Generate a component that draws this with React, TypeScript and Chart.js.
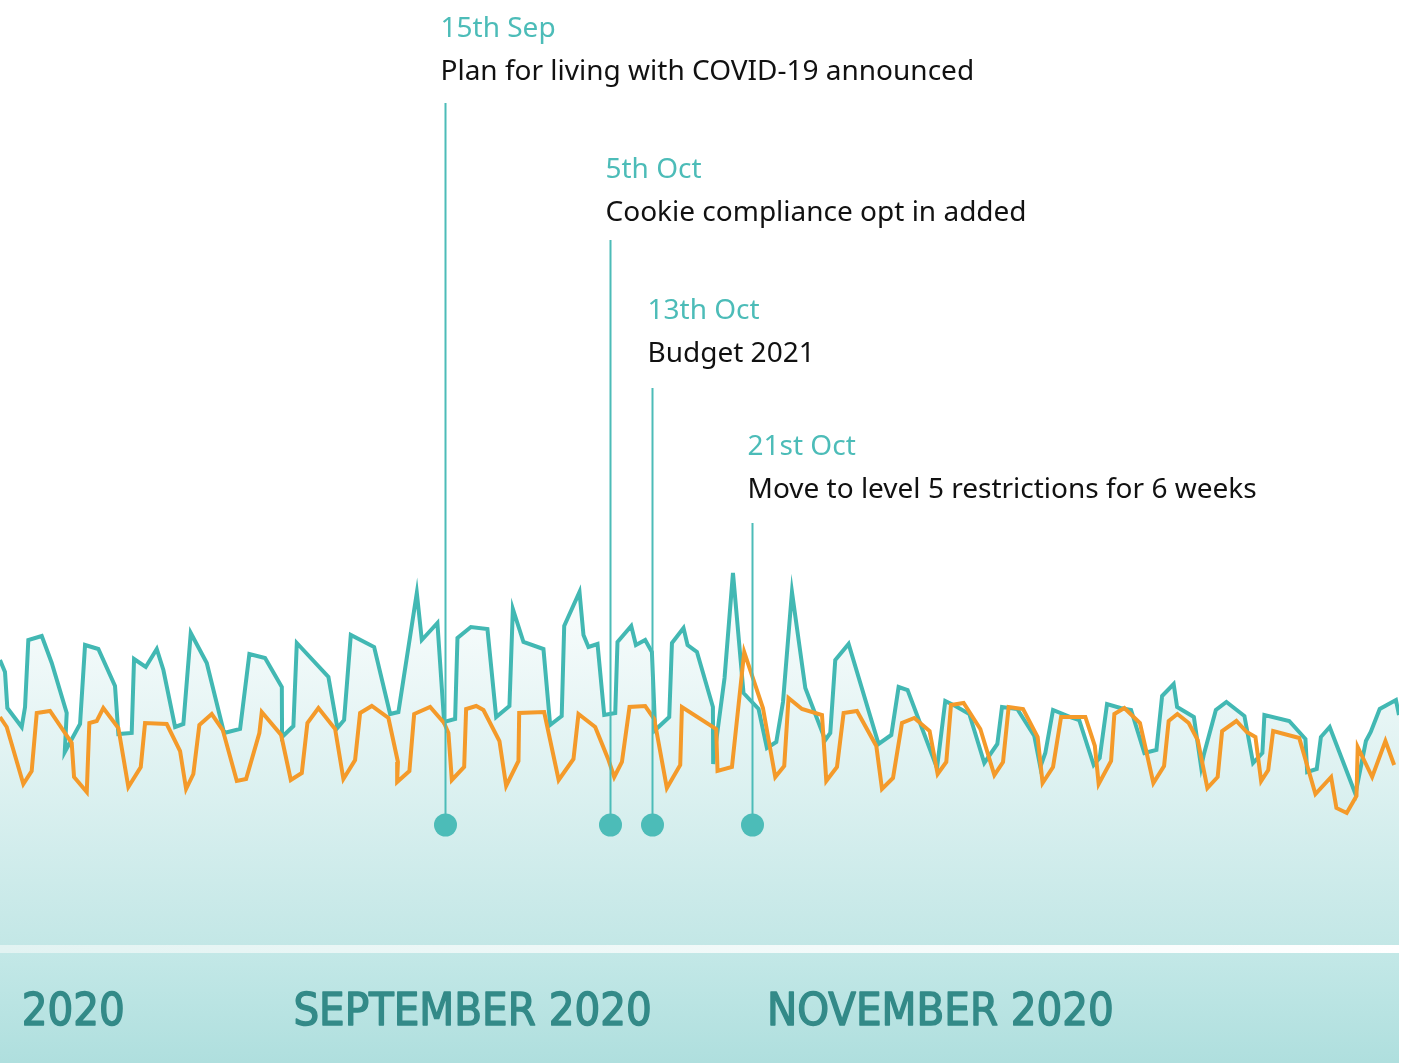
import React, { useEffect, useRef } from "react";
import { Chart, registerables } from "chart.js";

Chart.register(...registerables);

// Days since the start of the period (x) and daily visits index (y)
const tealDays = [0, 0.64, 0.94, 2.78, 3.21, 3.63, 5.35, 6.63, 8.55, 8.3, 10.26, 10.9, 12.6, 14.74, 15.17, 16.88, 17.18, 18.68, 20.09, 20.94, 22.44, 23.5, 24.45, 26.5, 28.72, 30.77, 31.96, 33.97, 36.12, 36.15, 37.6, 38.04, 42.09, 43.24, 44.1, 44.96, 47.95, 50.0, 51.06, 53.42, 54.06, 56.06, 56.92, 58.33, 58.63, 60.35, 62.47, 63.59, 65.29, 65.73, 67.09, 69.65, 70.51, 71.99, 72.31, 74.27, 74.78, 75.42, 76.58, 77.44, 78.85, 79.14, 80.9, 81.5, 82.69, 83.55, 83.97, 85.77, 86.12, 87.6, 88.12, 89.32, 91.37, 91.4, 92.86, 93.94, 95.29, 97.22, 98.29, 99.49, 100.35, 101.5, 103.21, 105.77, 106.41, 107.05, 108.76, 112.6, 114.23, 115.17, 116.32, 120.09, 121.15, 122.44, 124.23, 126.15, 127.82, 128.42, 130.38, 132.56, 133.33, 133.97, 134.96, 137.18, 138.31, 140.17, 140.94, 141.88, 143.59, 144.96, 146.67, 148.21, 148.94, 150.42, 150.86, 153.01, 153.94, 154.27, 155.83, 157.18, 159.49, 160.6, 161.79, 162.05, 165.23, 167.31, 167.53, 168.76, 169.29, 170.42, 173.72, 175.06, 175.68, 176.83, 178.91, 179.3];
const tealVisits = [285, 273, 237, 218, 238, 305, 309, 282, 232, 193, 221, 300, 296, 259, 211, 212, 286, 278, 296, 275, 218, 221, 312, 282, 212, 216, 291, 287, 258, 208, 219, 302, 268, 217, 225, 310, 298, 231, 233, 352, 305, 322, 223, 226, 307, 318, 316, 228, 239, 336, 303, 296, 220, 229, 319, 353, 310, 298, 301, 230, 232, 303, 319, 300, 305, 293, 215, 228, 302, 317, 300, 293, 238, 181, 267, 372, 252, 236, 197, 203, 243, 353, 257, 205, 212, 285, 301, 201, 210, 258, 255, 177, 244, 239, 231, 182, 201, 238, 236, 209, 178, 192, 235, 228, 225, 180, 187, 241, 237, 235, 192, 195, 249, 261, 238, 228, 178, 190, 235, 243, 229, 182, 192, 230, 224, 206, 173, 176, 208, 218, 151, 204, 213, 236, 245, 230];

const orangeDays = [0, 0.86, 2.99, 4.06, 4.71, 6.41, 9.19, 9.49, 11.12, 11.45, 12.4, 13.24, 15.17, 16.45, 18.04, 18.59, 21.37, 23.08, 23.85, 24.78, 25.55, 27.14, 28.55, 30.35, 31.54, 33.24, 33.55, 36.03, 37.27, 38.68, 39.4, 40.81, 42.95, 44.01, 45.51, 46.15, 47.65, 49.78, 51.0, 50.9, 52.47, 53.08, 55.13, 56.92, 57.47, 57.91, 59.49, 59.74, 61.03, 61.96, 64.01, 64.87, 66.45, 66.54, 69.74, 71.6, 73.5, 74.14, 76.28, 77.99, 78.72, 79.71, 80.68, 82.69, 83.85, 85.47, 87.18, 87.4, 91.79, 91.96, 93.81, 95.38, 97.78, 99.36, 100.51, 101.06, 102.78, 105.35, 105.9, 107.27, 108.12, 109.83, 112.31, 113.04, 114.45, 115.6, 117.18, 119.14, 120.17, 121.28, 121.88, 123.5, 125.64, 127.44, 128.55, 129.27, 131.12, 132.99, 133.62, 134.96, 135.99, 139.1, 140.32, 140.81, 142.4, 142.82, 144.1, 146.1, 147.82, 149.19, 149.78, 150.9, 152.35, 153.5, 154.74, 156.06, 156.63, 158.46, 159.78, 160.9, 161.63, 162.54, 163.17, 166.51, 168.59, 170.6, 171.28, 172.6, 173.85, 174.01, 175.86, 177.56, 178.68];
const orangeVisits = [228, 218, 161, 174, 232, 234, 202, 168, 153, 222, 224, 237, 217, 158, 178, 222, 221, 194, 156, 171, 220, 231, 215, 164, 166, 212, 233, 210, 165, 172, 222, 237, 216, 166, 185, 232, 239, 227, 183, 163, 174, 231, 238, 222, 212, 165, 178, 236, 239, 235, 204, 159, 184, 232, 233, 165, 186, 231, 218, 185, 168, 183, 238, 239, 226, 157, 180, 238, 216, 174, 178, 293, 237, 168, 179, 247, 236, 230, 164, 178, 232, 234, 199, 156, 167, 222, 227, 214, 171, 183, 240, 242, 216, 170, 183, 238, 236, 208, 162, 178, 228, 228, 199, 161, 184, 231, 237, 222, 162, 179, 224, 231, 222, 205, 157, 168, 214, 224, 213, 208, 164, 175, 214, 207, 151, 168, 137, 132, 149, 198, 168, 204, 180];

// Events
const eventDays = [57.05, 78.2, 83.6, 96.4];
const eventDates = ["15th Sep", "5th Oct", "13th Oct", "21st Oct"];
const eventLabels = [
  "Plan for living with COVID-19 announced",
  "Cookie compliance opt in added",
  "Budget 2021",
  "Move to level 5 restrictions for 6 weeks",
];
const eventLevels = [842, 705, 557, 422];
const eventLabelLevels = [865, 724, 583, 447];
const eventMarkerLevel = 120;

// Axis labels
const axisLabelDays = [2.8, 37.6, 98.3];
const axisLabels = ["2020", "SEPTEMBER 2020", "NOVEMBER 2020"];

const X_MAX = 179.3;
const Y_MAX = 945;

const TEAL = "#42b8b3";
const ORANGE = "#f49a2a";
const ACCENT = "#4cbcb8";

const overlayPlugin = {
  id: "overlay",
  beforeDraw(chart: any) {
    const { ctx, chartArea, scales } = chart;
    const left = chartArea.left;
    const right = chartArea.right;
    const bottom = chartArea.bottom;
    ctx.save();
    const sg = ctx.createLinearGradient(left, 0, right, 0);
    sg.addColorStop(0, "#e2f3f2");
    sg.addColorStop(1, "#ffffff");
    ctx.fillStyle = sg;
    ctx.fillRect(left, bottom, right - left, 8);
    const bg = ctx.createLinearGradient(0, bottom + 8, 0, chart.height);
    bg.addColorStop(0, "#c3e8e7");
    bg.addColorStop(1, "#afdfde");
    ctx.fillStyle = bg;
    ctx.fillRect(left, bottom + 8, right - left, chart.height - bottom - 8);
    ctx.font = 'normal 45px "DejaVu Sans Condensed"';
    ctx.fillStyle = "#338a88";
    ctx.strokeStyle = "#338a88";
    ctx.lineWidth = 1.4;
    ctx.lineJoin = "round";
    ctx.textAlign = "left";
    ctx.textBaseline = "alphabetic";
    axisLabels.forEach((t, i) => {
      const x = scales.x.getPixelForValue(axisLabelDays[i]);
      ctx.fillText(t, x, bottom + 80);
      ctx.strokeText(t, x, bottom + 80);
    });
    ctx.restore();
  },
  afterDatasetsDraw(chart: any) {
    const { ctx, scales } = chart;
    ctx.save();
    eventDays.forEach((d, i) => {
      const x = Math.round(scales.x.getPixelForValue(d)) + 0.5;
      const yTop = scales.y.getPixelForValue(eventLevels[i]);
      const yDot = scales.y.getPixelForValue(eventMarkerLevel);
      const yText = scales.y.getPixelForValue(eventLabelLevels[i]);
      ctx.strokeStyle = ACCENT;
      ctx.lineWidth = 2;
      ctx.beginPath();
      ctx.moveTo(x, yTop);
      ctx.lineTo(x, yDot);
      ctx.stroke();
      ctx.fillStyle = ACCENT;
      ctx.beginPath();
      ctx.arc(x, yDot, 11.5, 0, Math.PI * 2);
      ctx.fill();
      ctx.textAlign = "left";
      ctx.textBaseline = "alphabetic";
      ctx.font = '28px "Noto Sans"';
      ctx.fillStyle = ACCENT;
      ctx.fillText(eventDates[i], x - 5, yText - 43);
      ctx.fillStyle = "#111111";
      ctx.fillText(eventLabels[i], x - 5, yText);
    });
    ctx.restore();
  },
};

export default function App() {
  const canvasRef = useRef<HTMLCanvasElement | null>(null);

  useEffect(() => {
    const canvas = canvasRef.current;
    if (!canvas) return;
    const chart = new Chart(canvas, {
      type: "line",
      data: {
        datasets: [
          {
            label: "Orange",
            data: orangeDays.map((d, i) => ({ x: d, y: orangeVisits[i] })),
            borderColor: ORANGE,
            borderWidth: 4,
            pointRadius: 0,
            tension: 0,
            fill: false,
            borderJoinStyle: "miter",
            order: 0,
          },
          {
            label: "Teal",
            data: tealDays.map((d, i) => ({ x: d, y: tealVisits[i] })),
            borderColor: TEAL,
            borderWidth: 4,
            pointRadius: 0,
            tension: 0,
            fill: "origin",
            borderJoinStyle: "miter",
            order: 1,
            backgroundColor: (context: any) => {
              const ca = context.chart.chartArea;
              if (!ca) return "#d8efee";
              const g = context.chart.ctx.createLinearGradient(0, ca.bottom - 385, 0, ca.bottom);
              g.addColorStop(0, "#ffffff");
              g.addColorStop(1, "#c3e7e6");
              return g;
            },
          },
        ],
      },
      options: {
        responsive: false,
        animation: false,
        devicePixelRatio: 1,
        layout: { padding: { left: 0, right: 9, top: 0, bottom: 118 } },
        plugins: { legend: { display: false }, tooltip: { enabled: false } },
        scales: {
          x: { type: "linear", min: 0, max: X_MAX, display: false },
          y: { type: "linear", min: 0, max: Y_MAX, display: false },
        },
      },
      plugins: [overlayPlugin],
    } as any);
    return () => chart.destroy();
  }, []);

  return (
    <div style={{ position: "absolute", left: 0, top: 0, width: 1408, height: 1063, background: "#ffffff" }}>
      <canvas ref={canvasRef} width={1408} height={1063} style={{ display: "block" }} />
    </div>
  );
}
